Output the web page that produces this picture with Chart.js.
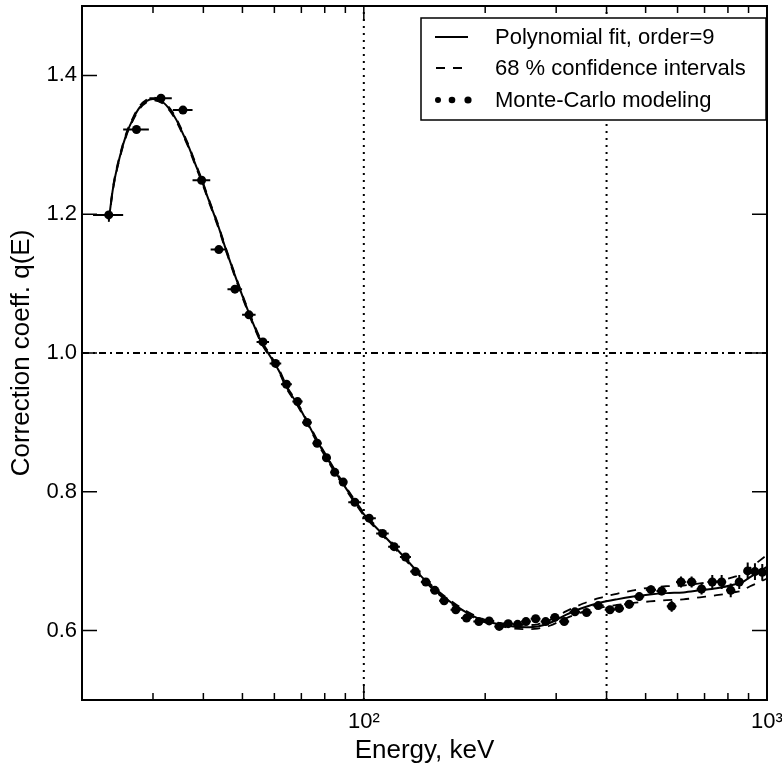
<!DOCTYPE html>
<html>
<head>
<meta charset="utf-8">
<script src="https://cdn.jsdelivr.net/npm/chart.js@4.4.1/dist/chart.umd.min.js"></script>
<style>
  html, body { margin: 0; padding: 0; background: #fff; }
  #wrap { width: 782px; height: 768px; }
</style>
</head>
<body>
<div id="wrap"><canvas id="chart" width="782" height="768"></canvas></div>
<script>
// Monte-Carlo points: energy (keV), coefficient, half bin width, error
const energyKeV = [23.3, 27.3, 31.4, 35.6, 39.6, 43.7, 47.9, 51.9, 56.2, 60.4,
  64.3, 68.5, 72.3, 76.6, 80.8, 84.7, 88.9, 95.0, 103.1, 111.3,
  118.9, 126.9, 134.3, 142.5, 150.0, 158.2, 169.1, 179.8, 192.9, 204.6,
  216.7, 228.1, 240.7, 252.5, 266.8, 282.5, 297.8, 314.1, 333.9, 356.9,
  381.5, 407.8, 430.0, 455.2, 482.0, 515.5, 547.9, 580.2, 611.9, 650.2,
  688.2, 731.6, 771.9, 812.9, 853.5, 895.6, 933.5, 973.4]
const mcCoeff = [1.199, 1.322, 1.367, 1.350, 1.249, 1.149, 1.092, 1.055, 1.016, 0.985,
  0.955, 0.930, 0.900, 0.870, 0.849, 0.828, 0.814, 0.785, 0.762, 0.740,
  0.721, 0.706, 0.685, 0.670, 0.658, 0.643, 0.630, 0.618, 0.613, 0.614,
  0.606, 0.610, 0.609, 0.613, 0.617, 0.613, 0.619, 0.613, 0.627, 0.626,
  0.636, 0.630, 0.632, 0.638, 0.649, 0.659, 0.657, 0.635, 0.670, 0.670,
  0.660, 0.670, 0.670, 0.658, 0.670, 0.686, 0.685, 0.684]
const mcErrE = [2, 2, 2, 2, 2, 2, 2, 2, 2, 2,
  2, 2, 2, 2, 2, 2, 2, 3.5, 4, 4,
  4, 4, 4, 4, 4, 4.5, 5, 5.5, 6, 6,
  6, 6.5, 6.5, 7, 7.5, 8, 8, 9, 10, 11,
  12, 12, 12, 13, 14, 15, 16, 16, 17, 18,
  19, 20, 20, 21, 21, 20, 19, 19]
const mcErrQ = [0.004, 0.002, 0.002, 0.002, 0.002, 0.002, 0.002, 0.002, 0.002, 0.002,
  0.002, 0.002, 0.002, 0.002, 0.002, 0.002, 0.002, 0.002, 0.002, 0.002,
  0.002, 0.002, 0.002, 0.002, 0.002, 0.003, 0.003, 0.003, 0.003, 0.003,
  0.003, 0.003, 0.003, 0.004, 0.004, 0.004, 0.004, 0.004, 0.005, 0.005,
  0.005, 0.005, 0.005, 0.006, 0.006, 0.006, 0.006, 0.008, 0.008, 0.008,
  0.008, 0.010, 0.010, 0.010, 0.010, 0.012, 0.012, 0.012]

// polynomial fit and its 68 % band
const fitEnergy = [23.3, 23.9, 24.8, 25.8, 26.8, 27.8, 28.9, 30.0, 31.8, 33.0,
  34.2, 35.4, 36.8, 38.1, 39.6, 41.2, 43.6, 45.2, 49.2, 52.1,
  55.7, 57.9, 61.9, 64.3, 68.5, 72.3, 76.6, 80.8, 84.7, 88.9,
  95.0, 100, 110, 120, 130, 140, 150, 160, 170, 180,
  195, 217, 235, 253, 270, 289, 318, 350, 385, 424,
  466, 512, 564, 620, 682, 750, 825, 870, 908, 950, 1000]
const fitCoeff = [1.191, 1.239, 1.282, 1.316, 1.338, 1.354, 1.363, 1.366, 1.361, 1.351,
  1.337, 1.319, 1.297, 1.274, 1.249, 1.221, 1.182, 1.154, 1.093, 1.055,
  1.016, 1.000, 0.972, 0.951, 0.926, 0.901, 0.873, 0.850, 0.830, 0.811,
  0.786, 0.768, 0.742, 0.719, 0.697, 0.676, 0.659, 0.646, 0.635, 0.626,
  0.616, 0.609, 0.606, 0.605, 0.606, 0.611, 0.623, 0.633, 0.640, 0.645,
  0.649, 0.652, 0.654, 0.655, 0.658, 0.661, 0.666, 0.670, 0.677, 0.684, 0.692]
const ciUpper = [1.193, 1.241, 1.284, 1.318, 1.340, 1.356, 1.365, 1.368, 1.363, 1.353,
  1.339, 1.321, 1.299, 1.276, 1.251, 1.223, 1.184, 1.156, 1.095, 1.057,
  1.018, 1.002, 0.974, 0.953, 0.928, 0.903, 0.875, 0.852, 0.832, 0.813,
  0.788, 0.770, 0.744, 0.721, 0.699, 0.678, 0.661, 0.648, 0.637, 0.628,
  0.618, 0.611, 0.609, 0.608, 0.609, 0.615, 0.628, 0.639, 0.647, 0.653,
  0.658, 0.662, 0.664, 0.665, 0.668, 0.671, 0.677, 0.682, 0.690, 0.699, 0.709]
const ciLower = [1.189, 1.237, 1.280, 1.314, 1.336, 1.352, 1.361, 1.364, 1.359, 1.349,
  1.335, 1.317, 1.295, 1.272, 1.247, 1.219, 1.180, 1.152, 1.091, 1.053,
  1.014, 0.998, 0.970, 0.949, 0.924, 0.899, 0.871, 0.848, 0.828, 0.809,
  0.784, 0.766, 0.740, 0.717, 0.695, 0.674, 0.657, 0.644, 0.633, 0.624,
  0.614, 0.607, 0.603, 0.602, 0.603, 0.607, 0.618, 0.627, 0.633, 0.637,
  0.640, 0.642, 0.644, 0.645, 0.648, 0.651, 0.655, 0.658, 0.664, 0.669, 0.675]

// axes
const xTickValues = [20, 30, 40, 50, 60, 70, 80, 90, 100, 200, 300, 400, 500, 600, 700, 800, 900, 1000]
const yTickValues = [0.6, 0.8, 1.0, 1.2, 1.4]
const xLabels = { 100: '10²', 1000: '10³' }
const refEnergies = [100, 400]
const refCoeff = 1.0

const legendItems = ['Polynomial fit, order=9', '68 % confidence intervals', 'Monte-Carlo modeling']

const FONT = '"Liberation Sans", Arial, Helvetica, sans-serif'

const pts = (xs, ys) => xs.map((v, i) => ({ x: v, y: ys[i] }))

// no label overhang padding, fixed box sizes
const fixBox = (s, key, size) => {
  s[key] = size
  s.paddingTop = 0; s.paddingBottom = 0; s.paddingLeft = 0; s.paddingRight = 0
}

// error bars for the MC points
const errorBars = {
  id: 'errorBars',
  afterDatasetsDraw(chart) {
    const { ctx, chartArea: a, scales: { x, y } } = chart
    ctx.save()
    ctx.beginPath()
    ctx.rect(a.left, a.top, a.right - a.left, a.bottom - a.top)
    ctx.clip()
    ctx.strokeStyle = '#000'
    ctx.lineWidth = 2
    energyKeV.forEach((e, i) => {
      const q = mcCoeff[i]
      const px = x.getPixelForValue(e)
      const py = y.getPixelForValue(q)
      ctx.beginPath()
      ctx.moveTo(x.getPixelForValue(e - mcErrE[i]), py)
      ctx.lineTo(x.getPixelForValue(e + mcErrE[i]), py)
      ctx.moveTo(px, y.getPixelForValue(q - mcErrQ[i]))
      ctx.lineTo(px, y.getPixelForValue(q + mcErrQ[i]))
      ctx.stroke()
    })
    ctx.restore()
  }
}

// box frame + inward ticks on all four sides
const frameTicks = {
  id: 'frameTicks',
  afterDraw(chart) {
    const { ctx, chartArea: a, scales: { x, y } } = chart
    ctx.save()
    ctx.strokeStyle = '#000'
    ctx.lineWidth = 1.5
    ctx.beginPath()
    x.ticks.forEach(t => {
      const px = x.getPixelForValue(t.value)
      const len = Number.isInteger(Math.log10(t.value)) ? 15 : 7
      ctx.moveTo(px, a.bottom); ctx.lineTo(px, a.bottom - len)
      ctx.moveTo(px, a.top); ctx.lineTo(px, a.top + len)
    })
    y.ticks.forEach(t => {
      const py = y.getPixelForValue(t.value)
      ctx.moveTo(a.left, py); ctx.lineTo(a.left + 15, py)
      ctx.moveTo(a.right, py); ctx.lineTo(a.right - 15, py)
    })
    ctx.stroke()
    ctx.lineWidth = 2
    ctx.strokeRect(a.left, a.top, a.right - a.left, a.bottom - a.top)
    ctx.restore()
  }
}

// legend box in the upper right corner
const cornerLegend = {
  id: 'cornerLegend',
  afterDraw(chart) {
    const { ctx } = chart
    const bx = 421, by = 18, bw = 345, bh = 102
    ctx.save()
    ctx.fillStyle = '#fff'
    ctx.fillRect(bx, by, bw, bh)
    ctx.strokeStyle = '#000'
    ctx.lineWidth = 1.5
    ctx.strokeRect(bx, by, bw, bh)
    const rows = [37, 68, 100]
    // solid
    ctx.lineWidth = 2
    ctx.beginPath(); ctx.moveTo(435, rows[0]); ctx.lineTo(468, rows[0]); ctx.stroke()
    // dashed
    ctx.setLineDash([9, 8])
    ctx.beginPath(); ctx.moveTo(436, rows[1]); ctx.lineTo(469, rows[1]); ctx.stroke()
    ctx.setLineDash([])
    // dots
    ctx.fillStyle = '#000'
    ;[[438, 3], [452, 3.3], [468, 3.6]].forEach(([cx, r]) => {
      ctx.beginPath(); ctx.arc(cx, rows[2], r, 0, Math.PI * 2); ctx.fill()
    })
    ctx.font = '22px ' + FONT
    ctx.textBaseline = 'middle'
    legendItems.forEach((t, i) => ctx.fillText(t, 495, rows[i] + 1))
    ctx.restore()
  }
}

const ctx = document.getElementById('chart')

new Chart(ctx, {
  type: 'scatter',
  data: {
    datasets: [
      {
        label: 'Monte-Carlo modeling',
        data: pts(energyKeV, mcCoeff),
        showLine: false,
        pointRadius: 4.5,
        pointBackgroundColor: '#000',
        pointBorderWidth: 0
      },
      {
        label: 'Polynomial fit, order=9',
        data: pts(fitEnergy, fitCoeff),
        showLine: true,
        borderColor: '#000',
        borderWidth: 2,
        pointRadius: 0,
        cubicInterpolationMode: 'monotone'
      },
      {
        label: '68 % confidence intervals',
        data: pts(fitEnergy, ciUpper),
        showLine: true,
        borderColor: '#000',
        borderWidth: 1.8,
        borderDash: [9, 8],
        pointRadius: 0,
        cubicInterpolationMode: 'monotone'
      },
      {
        label: 'ci lower',
        data: pts(fitEnergy, ciLower),
        showLine: true,
        borderColor: '#000',
        borderWidth: 1.8,
        borderDash: [9, 8],
        pointRadius: 0,
        cubicInterpolationMode: 'monotone'
      },
      ...refEnergies.map(e => ({
        label: 'ref',
        data: [{ x: e, y: 0.5 }, { x: e, y: 1.5 }],
        showLine: true,
        borderColor: '#000',
        borderWidth: 2,
        borderDash: [2, 5],
        pointRadius: 0
      })),
      {
        label: 'ref',
        data: [{ x: 20, y: refCoeff }, { x: 1000, y: refCoeff }],
        showLine: true,
        borderColor: '#000',
        borderWidth: 1.8,
        borderDash: [7, 4, 2, 4],
        pointRadius: 0
      }
    ]
  },
  options: {
    responsive: false,
    animation: false,
    devicePixelRatio: 1,
    layout: { autoPadding: false, padding: { top: 6, right: 15, left: 0, bottom: 0 } },
    plugins: {
      legend: { display: false },
      tooltip: { enabled: false }
    },
    scales: {
      x: {
        type: 'logarithmic',
        min: 20,
        max: 1000,
        grid: { display: false, drawTicks: false },
        border: { display: false },
        afterBuildTicks: s => { s.ticks = xTickValues.map(v => ({ value: v })) },
        afterFit: s => fixBox(s, 'height', 68),
        ticks: {
          autoSkip: false,
          maxRotation: 0,
          padding: 9,
          color: '#000',
          font: { family: FONT, size: 22 },
          callback: v => xLabels[v] || ''
        },
        title: {
          display: true,
          text: 'Energy, keV',
          color: '#000',
          font: { family: FONT, size: 26 },
          padding: { top: 0, bottom: 2 }
        }
      },
      y: {
        min: 0.5,
        max: 1.5,
        grid: { display: false, drawTicks: false },
        border: { display: false },
        afterBuildTicks: s => { s.ticks = yTickValues.map(v => ({ value: v })) },
        afterFit: s => fixBox(s, 'width', 82),
        ticks: {
          padding: 5,
          color: '#000',
          font: { family: FONT, size: 22 },
          callback: v => Number(v).toFixed(1)
        },
        title: {
          display: true,
          text: 'Correction coeff. q(E)',
          color: '#000',
          font: { family: FONT, size: 26 },
          padding: { top: 6, bottom: 0 }
        }
      }
    }
  },
  plugins: [errorBars, frameTicks, cornerLegend]
})
</script>
</body>
</html>
